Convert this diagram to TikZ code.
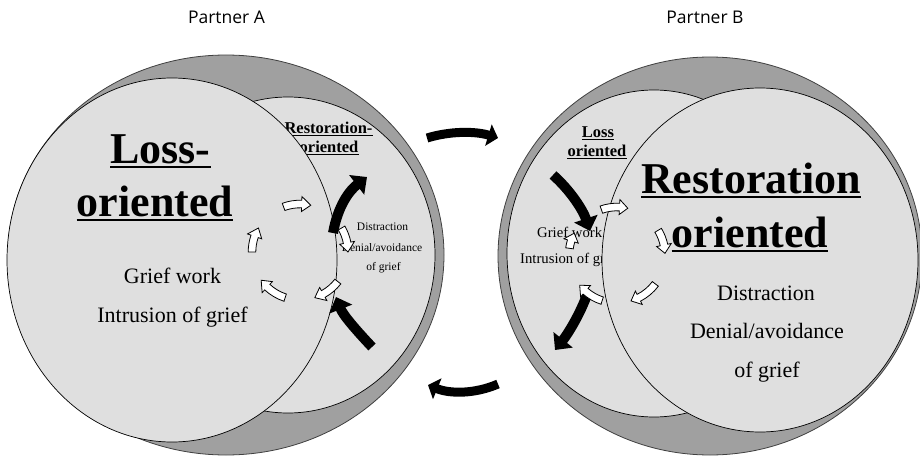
\documentclass[tikz,border=0pt]{standalone}
\usepackage{fontspec}
\setmainfont{Liberation Serif}
\newfontfamily\partnerfont{Open Sans}
\usetikzlibrary{arrows.meta}
\definecolor{darkg}{HTML}{A0A0A0}
\definecolor{lightg}{HTML}{DFDFDF}
% white hollow curved block arrow: centre x, centre y, start angle, head base angle, tip angle
\newcommand{\warc}[5]{%
  \filldraw[warrow] ([shift={(#1,#2)}]#3:51.8pt) arc[start angle=#3, end angle=#4, radius=51.8pt]
    -- ([shift={(#1,#2)}]#4:55.5pt) -- ([shift={(#1,#2)}]#5:48pt) -- ([shift={(#1,#2)}]#4:40.5pt)
    -- ([shift={(#1,#2)}]#4:44.2pt) arc[start angle=#4, end angle=#3, radius=44.2pt] -- cycle;}
\begin{document}
\begin{tikzpicture}[x=1pt,y=1pt,
  dark/.style={fill=darkg, draw=black!75, line width=0.8pt},
  light/.style={fill=lightg, draw=black, line width=0.7pt},
  blk/.style={line width=10pt, -{Triangle[length=13pt,width=24pt]}},
  blkthin/.style={line width=9pt, -{Triangle[length=10pt,width=22pt]}},
  warrow/.style={fill=white, draw=black, line width=0.8pt},
  txt/.style={inner sep=0pt, anchor=base},
  bighead/.style={txt, font=\fontsize{44}{50}\selectfont\bfseries},
  smallhead/.style={txt, font=\fontsize{16.5}{19}\selectfont\bfseries},
  body/.style={txt, font=\fontsize{22}{26}\selectfont},
  smallbody/.style={txt, font=\fontsize{11.5}{14}\selectfont},
  midbody/.style={txt, font=\fontsize{14.7}{17}\selectfont},
  partner/.style={txt, font=\fontsize{17.5}{21}\selectfont\partnerfont},
  ulbig/.style={line width=2pt},
  ulsmall/.style={line width=1pt}]
\useasboundingbox (0,0) rectangle (920,456);
\fill[white] (0,0) rectangle (920,456);

% ---------- Partner A ----------
\node[partner] (pa) at (226.5,432) {Partner A};
\draw[dark] (226,201) ellipse [x radius=218pt, y radius=200pt];
\draw[light] (288,201) ellipse [x radius=147pt, y radius=158pt];
\node[smallhead] (lr1) at (328.5,323) {Restoration-};
\node[smallhead] (lr2) at (329,304) {oriented};
\draw[ulsmall] ([yshift=-2.5pt]lr1.base west) -- ([yshift=-2.5pt]lr1.base east);
\draw[ulsmall] ([yshift=-2.5pt]lr2.base west) -- ([yshift=-2.5pt]lr2.base east);
\node[smallbody] (ld1) at (382.5,226) {Distraction};
\node[smallbody] (ld2) at (382,205) {Denial/avoidance};
\node[smallbody] (ld3) at (383.5,186) {of grief};
\draw[light] (172,196) ellipse [x radius=165pt, y radius=182pt];
\node[bighead] (ll1) at (160.5,293) {Loss-};
\node[bighead] (ll2) at (155,240) {oriented};
\draw[ulbig] ([yshift=-4pt]ll1.base west) -- ([yshift=-4pt]ll1.base east);
\draw[ulbig] ([yshift=-4pt]ll2.base west) -- ([yshift=-4pt]ll2.base east);
\node[body] (lg1) at (172.5,173) {Grief work};
\node[body] (lg2) at (172.5,134) {Intrusion of grief};

% ---------- Partner B ----------
\node[partner] (pb) at (705,432) {Partner B};
\draw[dark] (710,200) ellipse [x radius=212pt, y radius=199pt];
\draw[light] (654,202.5) ellipse [x radius=147pt, y radius=163.5pt];
\node[smallhead] (rl1) at (598,319) {Loss};
\node[smallhead] (rl2) at (597,300) {oriented};
\draw[ulsmall] ([yshift=-2.5pt]rl1.base west) -- ([yshift=-2.5pt]rl1.base east);
\draw[ulsmall] ([yshift=-2.5pt]rl2.base west) -- ([yshift=-2.5pt]rl2.base east);
\node[midbody, anchor=base west] (rg1) at (537,219) {Grief work};
\node[midbody, anchor=base west] (rg2) at (520,193) {Intrusion of grief};
\draw[light] (760,196) ellipse [x radius=158pt, y radius=172pt];
\node[bighead] (rr1) at (751,263) {Restoration};
\node[bighead] (rr2) at (750,209) {oriented};
\draw[ulbig] ([yshift=-4pt]rr1.base west) -- ([yshift=-4pt]rr1.base east);
\draw[ulbig] ([yshift=-4pt]rr2.base west) -- ([yshift=-4pt]rr2.base east);
\node[body] (rd1) at (766,156) {Distraction};
\node[body] (rd2) at (767,118) {Denial/avoidance};
\node[body] (rd3) at (767,79) {of grief};

% ---------- black arrows ----------
\coordinate (a1s) at (333,223); \coordinate (a1e) at (367,279);
\coordinate (a2s) at (372,109); \coordinate (a2e) at (336,159);
\coordinate (b1s) at (553,281); \coordinate (b1e) at (590,225);
\coordinate (b2s) at (588,164); \coordinate (b2e) at (555,106);
\coordinate (t1s) at (427,318); \coordinate (t1e) at (498,318);
\coordinate (t2s) at (498,72);  \coordinate (t2e) at (428,71);
\draw[blk] (a1s) .. controls (338,251) and (350,266) .. (a1e);
\draw[blk] (a2s) .. controls (356,126) and (343,141) .. (a2e);
\draw[blk] (b1s) .. controls (570,266) and (583,246) .. (b1e);
\draw[blk] (b2s) .. controls (580,141) and (567,121) .. (b2e);
\draw[blkthin] (t1s) .. controls (450,325) and (475,325) .. (t1e);
\draw[blkthin] (t2s) .. controls (475,62) and (450,62) .. (t2e);

% ---------- white cycle arrows ----------
\warc{300}{204}{110}{88}{77}
\warc{300}{204}{30}{11}{0}
\warc{300}{204}{-38}{-61}{-72}
\warc{300}{204}{252}{227}{216}
\warc{300}{204}{180}{161}{150}
\warc{617}{201}{109}{87}{77}
\warc{617}{201}{31}{12}{2}
\warc{617}{201}{-37}{-63}{-73}
\warc{617}{201}{252}{229}{219}
\warc{617}{201}{172}{163}{153}
\end{tikzpicture}
\end{document}
